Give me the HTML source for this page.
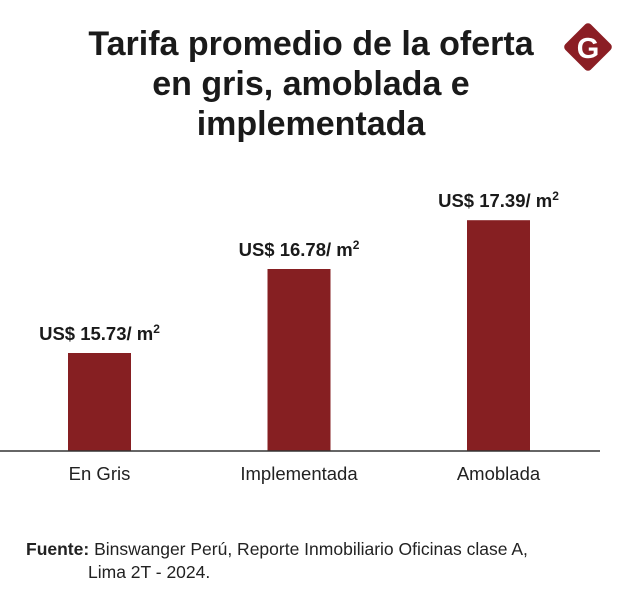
<!DOCTYPE html>
<html><head><meta charset="utf-8"><style>
body{margin:0;background:#fff;font-family:"Liberation Sans",sans-serif;}
#wrap{position:relative;width:620px;height:596px;overflow:hidden;background:#fff;}
.title{position:absolute;left:60px;top:24px;width:502px;text-align:center;font-size:34px;font-weight:bold;line-height:40px;color:#1a1a1a;letter-spacing:0px;}
.foot{position:absolute;left:26px;top:538px;font-size:17.5px;color:#222;line-height:23px;}
</style></head><body>
<div id="wrap">
<div class="title">Tarifa promedio de la oferta<br>en gris, amoblada e<br>implementada</div>
<svg width="620" height="596" style="position:absolute;left:0;top:0">
<g>
<rect x="570" y="29" width="36" height="36" rx="4" fill="#8b1e24" transform="rotate(45 588 47)"/>
<text x="588" y="58" text-anchor="middle" font-size="29" font-weight="bold" fill="#fff" font-family="Liberation Sans, sans-serif">G</text>
</g>
<g id="bars"></g>
<line x1="0" y1="451" x2="600" y2="451" stroke="#333" stroke-width="1.5"/>
</svg>
<div class="foot"><b>Fuente:</b> Binswanger Perú, Reporte Inmobiliario Oficinas clase A,<br><span style="padding-left:62px">Lima 2T - 2024.</span></div>
</div>
<script>
const categories=["En Gris","Implementada","Amoblada"];
const values=[15.73,16.78,17.39];
const labels=["US$ 15.73","US$ 16.78","US$ 17.39"];
const baseY=451, yMin=14.505, pxPerUnit=80;
function y(v){return baseY-(v-yMin)*pxPerUnit;}
function xc(i){return 99.5+i*199.5;}
const g=document.getElementById('bars');
const NS='http://www.w3.org/2000/svg';
categories.forEach((c,i)=>{
  const r=document.createElementNS(NS,'rect');
  r.setAttribute('x',xc(i)-31.5);r.setAttribute('y',y(values[i]));
  r.setAttribute('width',63);r.setAttribute('height',baseY-y(values[i]));
  r.setAttribute('fill','#861f22');
  
  
  g.appendChild(r);
  const t=document.createElementNS(NS,'text');
  t.setAttribute('x',xc(i));t.setAttribute('y',y(values[i])-13);
  t.setAttribute('text-anchor','middle');t.setAttribute('font-size','18.5');t.setAttribute('font-weight','bold');t.setAttribute('fill','#1a1a1a');
  t.innerHTML=labels[i]+'/ m<tspan font-size="12" dy="-7">2</tspan>';
  
  
  g.appendChild(t);
  const l=document.createElementNS(NS,'text');
  l.setAttribute('x',xc(i));l.setAttribute('y',480);
  l.setAttribute('text-anchor','middle');l.setAttribute('font-size','18.5');l.setAttribute('fill','#222');
  l.textContent=c;
  
  
  g.appendChild(l);
});
</script>
</body></html>
